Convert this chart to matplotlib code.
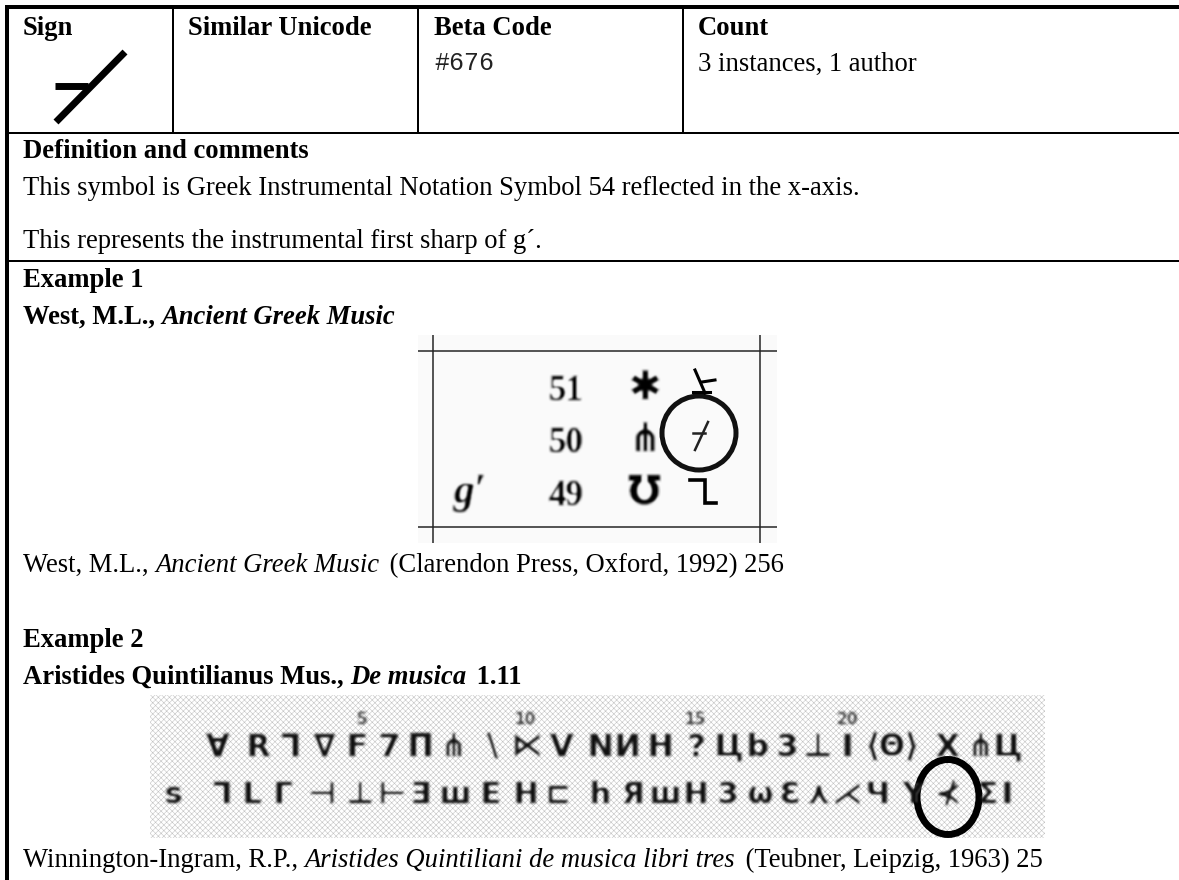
"""Sign catalogue sheet: one table row with two scanned examples."""

import matplotlib

matplotlib.use("Agg")

import matplotlib.pyplot as plt
from matplotlib.patches import Circle, Ellipse, Rectangle
import numpy as np

SERIF = "Liberation Serif"
BODY_SIZE = 19.2

HEADERS = ["Sign", "Similar Unicode", "Beta Code", "Count"]
BETA_CODE = "#676"
COUNT_TEXT = "3 instances, 1 author"
COMMENTS = [
    "This symbol is Greek Instrumental Notation Symbol 54 reflected in the x-axis.",
    "This represents the instrumental first sharp of g´.",
]

# scanned table, example 1
TABLE_NUMBERS = ["51", "50", "49"]
TABLE_SYMBOLS = ["✱", "⋔", "Ʊ"]

# scanned line of notation, example 2
LINE_1 = ["∀", "R", "⅂", "∇", "F", "7", "Π", "⋔", "\\", "⋉", "V", "N", "И", "H",
          "?", "Ц", "b", "3", "⊥", "I", "⟨Θ⟩", "X", "⋔", "Ц"]
LINE_1_X = [218, 258, 290, 325, 357, 390, 420, 453, 493, 527, 562, 600, 627, 660,
            697, 728, 757, 788, 817, 847, 893, 947, 980, 1007]
LINE_2 = ["s", "⅂", "L", "Γ", "⊣", "⊥", "⊢", "Ǝ", "ш", "E", "H", "⊏", "h", "Я",
          "ш", "H", "3", "ω", "Ɛ", "⋏", "⋌", "Ч", "Y", "⊀", "Σ", "I"]
LINE_2_X = [173, 222, 252, 283, 322, 360, 392, 420, 455, 490, 525, 558, 600, 632,
            665, 696, 728, 760, 790, 818, 847, 877, 913, 948, 987, 1007]
VERSE_NUMBERS = ["5", "10", "15", "20"]
VERSE_X = [362, 525, 695, 847]


def blur(radius):
    """Box blur for text, so it looks like a poor scan."""

    kernel = np.ones(2 * radius + 1) / (2 * radius + 1)

    def _filter(image, dpi):
        pad = radius * 3
        out = np.pad(image, ((pad, pad), (pad, pad), (0, 0)))
        for _ in range(2):
            for channel in range(out.shape[2]):
                out[:, :, channel] = np.apply_along_axis(
                    lambda row: np.convolve(row, kernel, mode="same"), 0, out[:, :, channel]
                )
                out[:, :, channel] = np.apply_along_axis(
                    lambda row: np.convolve(row, kernel, mode="same"), 1, out[:, :, channel]
                )
        return out, -pad, -pad

    return _filter


def rule(ax, xs, ys, width, color="black"):
    ax.plot(xs, ys, color=color, lw=width * 0.72, solid_capstyle="butt")


def text_runs(ax, x, y, runs):
    """Draw (text, weight, style) runs one after another on the same baseline."""
    renderer = ax.figure.canvas.get_renderer()
    for text, weight, style in runs:
        item = ax.text(x, y, text, family=SERIF, fontsize=BODY_SIZE, fontweight=weight,
                       fontstyle=style, va="baseline", ha="left", color="black")
        x += item.get_window_extent(renderer).width
        # italic runs come out a little narrow next to the browser's text
        if style == "italic":
            x += 4
    return x


fig = plt.figure(figsize=(11.79, 8.8), dpi=100)
ax = fig.add_axes([0, 0, 1, 1])
ax.set_xlim(0, 1179)
ax.set_ylim(880, 0)
ax.axis("off")

# table rules
rule(ax, [5, 1179], [7.5, 7.5], 4)
rule(ax, [5, 1179], [132.7, 132.7], 2)
rule(ax, [5, 1179], [261, 261], 2)
rule(ax, [7, 7], [5.5, 880], 4)
for col_x in [173, 418, 683]:
    rule(ax, [col_x, col_x], [7, 132], 2)

# header row
for head_x, header in zip([23, 188, 434, 698], HEADERS):
    text_runs(ax, head_x, 35, [(header, "bold", "normal")])
ax.text(434, 69.5, BETA_CODE, family="Liberation Mono", fontsize=18, va="baseline", color="#222222")
text_runs(ax, 698, 71, [(COUNT_TEXT, "normal", "normal")])

# the sign itself
ax.plot([125, 56], [52, 122], color="black", lw=5, solid_capstyle="butt")
ax.plot([55, 88], [86, 86], color="black", lw=5, solid_capstyle="butt")

# definition
text_runs(ax, 23, 158, [("Definition and comments", "bold", "normal")])
text_runs(ax, 23, 195, [(COMMENTS[0], "normal", "normal")])
text_runs(ax, 23, 248, [(COMMENTS[1], "normal", "normal")])

# example 1
text_runs(ax, 23, 287, [("Example 1", "bold", "normal")])
text_runs(ax, 23, 324, [("West, M.L., ", "bold", "normal"), ("Ancient Greek Music", "bold", "italic")])
ax.add_patch(Rectangle((418, 335), 359, 208, facecolor="#fafafa", edgecolor="none"))
rule(ax, [418, 777], [351, 351], 1.5, "#222222")
rule(ax, [418, 777], [527, 527], 1.5, "#222222")
rule(ax, [433, 433], [335, 543], 1.5, "#222222")
rule(ax, [760, 760], [335, 543], 1.5, "#222222")
scan = blur(1)
for number, num_y, symbol in zip(TABLE_NUMBERS, [400, 452, 505], TABLE_SYMBOLS):
    ax.text(566, num_y, number, family=SERIF, fontsize=25, fontweight="bold", ha="center",
            va="baseline", color="#000000").set_agg_filter(scan)
    ax.text(645, num_y - 1, symbol, family="DejaVu Sans", fontsize=28, fontweight="bold", ha="center",
            va="baseline", color="black").set_agg_filter(scan)
ax.text(470, 503, "g′", family=SERIF, fontsize=30, fontstyle="italic", fontweight="bold", ha="center",
        va="baseline", color="#000000").set_agg_filter(scan)
ax.add_patch(Circle((699, 433), 37, fill=False, edgecolor="#111111", lw=3.6))
ax.plot([708, 695], [422, 450], color="#222222", lw=1.8)
ax.plot([693, 705], [433, 433], color="#222222", lw=1.8)
ax.plot([690, 705, 705, 716], [480, 480, 503, 503], color="black", lw=2.6, solid_joinstyle="miter")
ax.plot([695, 705], [370, 393], color="black", lw=2.2)
ax.plot([702, 715], [382, 380], color="black", lw=2.2)
ax.plot([693, 710], [392, 392], color="black", lw=2.2)

text_runs(ax, 23, 572, [("West, M.L., ", "normal", "normal"), ("Ancient Greek Music", "normal", "italic"),
                        (" (Clarendon Press, Oxford, 1992) 256", "normal", "normal")])

# example 2
text_runs(ax, 23, 647, [("Example 2", "bold", "normal")])
text_runs(ax, 23, 684, [("Aristides Quintilianus Mus., ", "bold", "normal"), ("De musica", "bold", "italic"),
                        (" 1.11", "bold", "normal")])
matplotlib.rcParams["hatch.linewidth"] = 0.4
ax.add_patch(Rectangle((150, 695), 895, 143, facecolor="white", edgecolor="#c4c4c4", hatch="xxxxxx", lw=0))
scan = blur(1)
for glyph, glyph_x in zip(LINE_1, LINE_1_X):
    ax.text(glyph_x, 747, glyph, family="DejaVu Sans", fontsize=22, fontweight="bold", ha="center",
            va="center", color="#111111").set_agg_filter(scan)
for glyph, glyph_x in zip(LINE_2, LINE_2_X):
    ax.text(glyph_x, 795, glyph, family="DejaVu Sans", fontsize=21, fontweight="bold", ha="center",
            va="center", color="#111111").set_agg_filter(scan)
for number, verse_x in zip(VERSE_NUMBERS, VERSE_X):
    ax.text(verse_x, 720, number, family="DejaVu Sans", fontsize=11, fontweight="bold", ha="center",
            va="center", color="#333333").set_agg_filter(blur(1))
ax.add_patch(Ellipse((948, 797), 62, 75, fill=False, edgecolor="black", lw=5))

text_runs(ax, 23, 867, [("Winnington-Ingram, R.P., ", "normal", "normal"),
                        ("Aristides Quintiliani de musica libri tres", "normal", "italic"),
                        (" (Teubner, Leipzig, 1963) 25", "normal", "normal")])

fig.savefig("out.png", dpi=100)
